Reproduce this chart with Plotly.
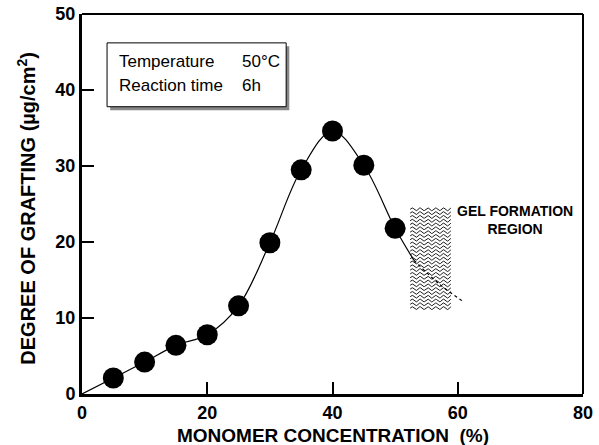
import numpy as np
import plotly.graph_objects as go

# Data
conc = [5, 10, 15, 20, 25, 30, 35, 40, 45, 50]
grafting = [2.1, 4.2, 6.4, 7.8, 11.6, 19.9, 29.5, 34.6, 30.1, 21.8]
curve_x = [0, 5, 10, 15, 20, 25, 30, 35, 40, 45, 50, 53]
curve_y = [0, 2.1, 4.2, 6.4, 7.8, 11.6, 19.9, 29.5, 34.6, 30.1, 21.8, 17.6]
dotted_x = [53, 57, 61]
dotted_y = [17.6, 14.5, 12.1]
x_ticks = [0, 20, 40, 60, 80]
y_ticks = [0, 10, 20, 30, 40, 50]
gel_x = [52.4, 58.9]
gel_y = [11.3, 24.6]
box_x = [4.0, 32.6]
box_y = [37.8, 46.2]

FONT = "Liberation Sans"
fig = go.Figure()

# hatching of gel region (wavy lines)
hx, hy = [], []
rows = np.arange(gel_y[0], gel_y[1], 0.5)
xs = np.linspace(gel_x[0], gel_x[1], 60)
for r in rows:
    hx += list(xs) + [None]
    hy += list(r + 0.18 * np.sin((xs - gel_x[0]) / 1.25 * 2 * np.pi)) + [None]
fig.add_trace(go.Scatter(x=hx, y=hy, mode="lines", line=dict(color="black", width=0.9),
                         hoverinfo="skip", showlegend=False))

fig.add_trace(go.Scatter(x=curve_x, y=curve_y, mode="lines", line=dict(color="black", width=1.2, shape="spline", smoothing=1.0),
                         showlegend=False))
fig.add_trace(go.Scatter(x=dotted_x, y=dotted_y, mode="lines", line=dict(color="black", width=1.2, dash="dot", shape="spline"),
                         showlegend=False))
fig.add_trace(go.Scatter(x=conc, y=grafting, mode="markers", marker=dict(color="black", size=21),
                         showlegend=False))

# info box with shadow
fig.add_shape(type="rect", x0=box_x[0] + 0.5, x1=box_x[1] + 0.5, y0=box_y[0] - 0.45, y1=box_y[1] - 0.45,
              xref="x", yref="y", fillcolor="#888888", line=dict(width=0), layer="above")
fig.add_shape(type="rect", x0=box_x[0], x1=box_x[1], y0=box_y[0], y1=box_y[1],
              xref="x", yref="y", fillcolor="white", line=dict(color="black", width=1), layer="above")
tf = dict(family=FONT, size=17, color="black")
fig.add_annotation(x=box_x[0] + 1.6, y=43.8, xref="x", yref="y", text="Temperature", showarrow=False,
                   xanchor="left", font=tf)
fig.add_annotation(x=box_x[0] + 1.6, y=40.6, xref="x", yref="y", text="Reaction time", showarrow=False,
                   xanchor="left", font=tf)
fig.add_annotation(x=25.3, y=43.8, xref="x", yref="y", text="50°C", showarrow=False,
                   xanchor="left", font=tf)
fig.add_annotation(x=25.3, y=40.6, xref="x", yref="y", text="6h", showarrow=False,
                   xanchor="left", font=tf)
fig.add_annotation(x=69.2, y=22.9, xref="x", yref="y", text="<b>GEL FORMATION<br>REGION</b>", showarrow=False,
                   align="center", font=dict(family=FONT, size=14, color="black"))

# axis titles
fig.add_annotation(x=-0.11, y=0.49, xref="paper", yref="paper", textangle=-90,
                   text="<b>DEGREE OF GRAFTING (µg/cm<sup>2</sup>)</b>", showarrow=False,
                   xanchor="center", yanchor="middle", font=dict(family=FONT, size=20, color="black"))
fig.add_annotation(x=0.5, y=-0.108, xref="paper", yref="paper",
                   text="<b>MONOMER CONCENTRATION  (%)</b>", showarrow=False,
                   xanchor="center", yanchor="middle", font=dict(family=FONT, size=19, color="black"))

fig.update_layout(
    width=599, height=445, margin=dict(l=82, r=16, t=14, b=51),
    plot_bgcolor="white", paper_bgcolor="white",
    xaxis=dict(range=[0, 80], tickvals=x_ticks, ticks="inside", ticklen=12, tickwidth=2, tickcolor="black",
               showline=True, linecolor="black", linewidth=3, showgrid=False, zeroline=False, automargin=False,
               tickfont=dict(family=FONT, size=18, color="black", weight="bold")),
    yaxis=dict(range=[0, 50], tickvals=y_ticks, ticks="inside", ticklen=12, tickwidth=2, tickcolor="black",
               showline=True, linecolor="black", linewidth=3, showgrid=False, zeroline=False, automargin=False,
               tickfont=dict(family=FONT, size=18, color="black", weight="bold")),
)
# top and right frame
fig.add_shape(type="line", xref="paper", yref="paper", x0=0, x1=1, y0=1, y1=1, line=dict(color="black", width=2))
fig.add_shape(type="line", xref="paper", yref="paper", x0=1, x1=1, y0=0, y1=1, line=dict(color="black", width=2))

fig.write_html("out.html")
